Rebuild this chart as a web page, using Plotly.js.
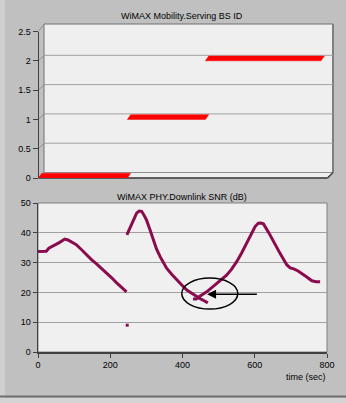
<!DOCTYPE html>
<html><head><meta charset="utf-8">
<script src="https://cdn.plot.ly/plotly-3.0.1.min.js"></script>
<style>html,body{margin:0;padding:0;background:#c0c0c0;}#chart{width:346px;height:403px;}</style>
</head><body><div id="chart"></div>
<script>
// ---- Data ----
var bsStart = [0, 246, 462];
var bsEnd   = [246, 462, 782];
var bsId    = [0, 1, 2];

var snr1X = [0, 15, 23, 30, 42, 52, 60, 68, 74, 83, 95, 106, 120, 134, 148, 162, 176, 190, 204, 217, 231, 245];
var snr1Y = [33.7, 33.9, 33.8, 34.8, 35.6, 36.0, 36.8, 37.4, 37.9, 37.6, 36.8, 36.0, 34.4, 32.6, 31.0, 29.6, 28.1, 26.6, 24.9, 23.3, 21.6, 20.2];
var snr2X = [246, 252, 259, 266, 273, 280, 287, 293, 300, 310, 319, 328, 338, 347, 356, 370, 384, 398, 412, 426, 439, 450, 460, 470];
var snr2Y = [39.3, 40.8, 42.7, 44.8, 46.6, 47.3, 47.2, 46.0, 44.4, 41.0, 37.6, 34.6, 32.0, 29.9, 28.1, 26.1, 24.2, 22.5, 20.8, 19.6, 18.5, 17.8, 17.2, 16.5];
var snr3X = [429, 438, 450, 467, 481, 495, 509, 522, 536, 550, 564, 578, 590, 601, 610, 617, 624, 632, 640, 647, 658, 670, 680, 689, 698, 708, 720, 731, 745, 758, 770, 781];
var snr3Y = [17.8, 17.8, 18.9, 20.2, 21.6, 23.0, 24.3, 25.8, 27.8, 30.3, 33.3, 36.5, 39.4, 42.1, 43.2, 43.3, 43.0, 41.5, 39.8, 38.2, 35.6, 33.1, 31.0, 29.2, 28.2, 27.9, 27.2, 26.4, 25.1, 23.9, 23.6, 23.6];
var dotX = [247];
var dotY = [9];

var topTicks = [0, 0.5, 1, 1.5, 2, 2.5];
var xTicks = [0, 200, 400, 600, 800];

// ---- Geometry helpers (pixels -> paper) ----
var W = 346, H = 403;
function PX(x){ return x / W; }
function PY(y){ return 1 - y / H; }
var FX0 = 38.5, FX1 = 327.5, FY0 = 178, FY1 = 31.5; // front plot frame of top chart
var DX = 5.5, DY = 5.5; // 3D depth offset in pixels
var pxPerUnit = (FY0 - FY1) / 2.5;
function vy(v){ return FY0 - v * pxPerUnit; }

// ribbons depth in data units
var depthX = 3.3 * 800 / (FX1 - FX0);
var depthY = 4.7 / pxPerUnit;

var COLOR = '#8b0c4e';
var FONT = {family: 'Liberation Sans, Arial, sans-serif', size: 9, color: '#000'};

var traces = [];
for (var i = 0; i < bsId.length; i++) {
  var x0 = bsStart[i], x1 = bsEnd[i], v = bsId[i];
  traces.push({
    x: [x0, x1, x1 + depthX, x0 + depthX, x0],
    y: [v, v, v + depthY, v + depthY, v],
    mode: 'lines', fill: 'toself', fillcolor: '#ff0000',
    line: {color: '#ff0000', width: 0.5}, xaxis: 'x', yaxis: 'y',
    hoverinfo: 'skip', showlegend: false, cliponaxis: false
  });
}
[[snr1X, snr1Y], [snr2X, snr2Y], [snr3X, snr3Y]].forEach(function(s){
  traces.push({x: s[0], y: s[1], mode: 'lines', line: {color: COLOR, width: 3},
    xaxis: 'x2', yaxis: 'y2', showlegend: false, hoverinfo: 'skip'});
});
traces.push({x: dotX, y: dotY, mode: 'markers', marker: {color: COLOR, size: 3, symbol: 'square'},
  xaxis: 'x2', yaxis: 'y2', showlegend: false, hoverinfo: 'skip'});

var shapes = [];
// outer frame decorations
shapes.push({type: 'rect', xref: 'paper', yref: 'paper', x0: 0, x1: PX(5), y0: 0, y1: 1, fillcolor: '#d0d0d0', line: {width: 0}, layer: 'below'});
shapes.push({type: 'rect', xref: 'paper', yref: 'paper', x0: 0, x1: 1, y0: 0, y1: PY(398), fillcolor: '#d4d4d4', line: {width: 0}, layer: 'below'});
shapes.push({type: 'line', xref: 'paper', yref: 'paper', x0: 0, x1: 1, y0: PY(396.5), y1: PY(396.5), line: {color: '#707070', width: 2}, layer: 'below'});
// back wall
shapes.push({type: 'rect', xref: 'paper', yref: 'paper', x0: PX(FX0 + DX), x1: PX(FX1 + DX), y0: PY(FY0 - DY), y1: PY(24), fillcolor: '#efefef', line: {color: '#707070', width: 1}, layer: 'below'});
shapes.push({type: 'line', xref: 'paper', yref: 'paper', x0: PX(FX1 + DX), x1: PX(FX1 + DX), y0: PY(FY0 - DY), y1: PY(24), line: {color: '#808080', width: 2}, layer: 'below'});
// back-wall grid lines and side diagonals
topTicks.forEach(function(t){
  if (t > 0 && t < 2.5) {
    shapes.push({type: 'line', xref: 'paper', yref: 'paper', x0: PX(FX0 + DX), x1: PX(FX1 + DX), y0: PY(vy(t) - DY), y1: PY(vy(t) - DY), line: {color: '#a0a0a0', width: 1}, layer: 'below'});
  }
  if (t > 0) {
    shapes.push({type: 'line', xref: 'paper', yref: 'paper', x0: PX(FX0), x1: PX(FX0 + DX), y0: PY(vy(t)), y1: PY(t === 2.5 ? 24 : vy(t) - DY), line: {color: '#909090', width: 1}, layer: 'below'});
  }
});
// floor
shapes.push({type: 'path', xref: 'paper', yref: 'paper',
  path: 'M' + PX(FX0) + ',' + PY(FY0) + ' L' + PX(FX1) + ',' + PY(FY0) + ' L' + PX(FX1 + DX) + ',' + PY(FY0 - DY) + ' L' + PX(FX0 + DX) + ',' + PY(FY0 - DY) + ' Z',
  fillcolor: '#efefef', line: {color: '#909090', width: 1}, layer: 'below'});
shapes.push({type: 'line', xref: 'paper', yref: 'paper', x0: PX(FX0), x1: PX(FX1), y0: PY(FY0), y1: PY(FY0), line: {color: '#404040', width: 1.5}, layer: 'below'});
shapes.push({type: 'line', xref: 'paper', yref: 'paper', x0: PX(FX1), x1: PX(FX1 + DX), y0: PY(FY0), y1: PY(FY0 - DY), line: {color: '#404040', width: 1.5}, layer: 'below'});
// bottom plot background and border
shapes.push({type: 'rect', xref: 'x2 domain', yref: 'y2 domain', x0: 0, x1: 1, y0: 0, y1: 1, fillcolor: '#f0f0f0', line: {color: '#808080', width: 1}, layer: 'below'});
// ellipse highlight
shapes.push({type: 'circle', xref: 'x2', yref: 'y2', x0: 398, x1: 553, y0: 14.4, y1: 24.8, line: {color: '#000', width: 1.5}, layer: 'above'});

var annotations = [
  {text: 'WiMAX Mobility.Serving BS ID', xref: 'paper', yref: 'paper', x: PX(182), y: PY(16), showarrow: false, font: FONT, xanchor: 'center', yanchor: 'middle'},
  {text: 'WiMAX PHY.Downlink SNR (dB)', xref: 'paper', yref: 'paper', x: PX(182), y: PY(197), showarrow: false, font: FONT, xanchor: 'center', yanchor: 'middle'},
  {text: 'time (sec)', xref: 'paper', yref: 'paper', x: PX(306), y: PY(377), showarrow: false, font: FONT, xanchor: 'center', yanchor: 'middle'},
  {text: '', xref: 'x2', yref: 'y2', x: 468, y: 19.4, axref: 'x2', ayref: 'y2', ax: 610, ay: 19.4,
   showarrow: true, arrowhead: 2, arrowsize: 1.2, arrowwidth: 1.5, arrowcolor: '#000'}
];

var layout = {
  width: W, height: H,
  margin: {l: 0, r: 0, t: 0, b: 0},
  paper_bgcolor: '#c0c0c0', plot_bgcolor: 'rgba(0,0,0,0)',
  showlegend: false, font: FONT,
  xaxis: {domain: [PX(FX0), PX(FX1)], range: [0, 800], visible: false, fixedrange: true},
  yaxis: {domain: [PY(FY0), PY(FY1)], range: [0, 2.5], tickvals: topTicks, ticktext: ['0', '0.5', '1', '1.5', '2', '2.5'],
    showgrid: false, zeroline: false, showline: true, linecolor: '#404040', linewidth: 1,
    ticks: 'outside', ticklen: 5, tickcolor: '#404040', tickfont: FONT, anchor: 'x'},
  xaxis2: {domain: [PX(38), PX(327)], range: [0, 800], tickvals: xTicks, ticktext: xTicks.map(String),
    showgrid: false, zeroline: false, showline: true, linecolor: '#404040', linewidth: 1.5,
    ticks: 'outside', ticklen: 4, tickcolor: '#404040', tickfont: FONT, anchor: 'y2'},
  yaxis2: {domain: [PY(352), PY(203)], range: [0, 50], tickvals: [0, 10, 20, 30, 40, 50],
    showgrid: true, gridcolor: '#a0a0a0', gridwidth: 1, zeroline: false, showline: true, linecolor: '#404040', linewidth: 1.5,
    ticks: 'outside', ticklen: 4, tickcolor: '#404040', tickfont: FONT, anchor: 'x2'},
  shapes: shapes, annotations: annotations
};

Plotly.newPlot('chart', traces, layout, {staticPlot: true, displayModeBar: false});
</script></body></html>
